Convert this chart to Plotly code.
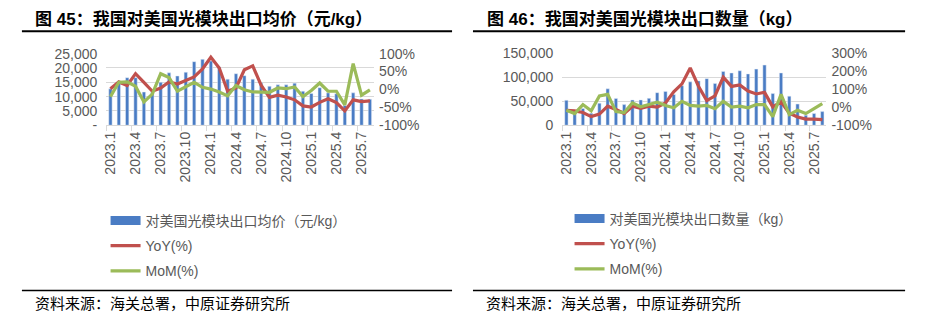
import plotly.graph_objects as go

# ---------------- data ----------------
months = ["2023.1", "2023.2", "2023.3", "2023.4", "2023.5", "2023.6", "2023.7", "2023.8",
          "2023.9", "2023.10", "2023.11", "2023.12",
          "2024.1", "2024.2", "2024.3", "2024.4", "2024.5", "2024.6", "2024.7", "2024.8",
          "2024.9", "2024.10", "2024.11", "2024.12",
          "2025.1", "2025.2", "2025.3", "2025.4", "2025.5", "2025.6", "2025.7", "2025.8"]

price = [12700, 15200, 16600, 16600, 11600, 11400, 15000, 18300, 17200, 18500, 22200, 23000,
         22400, 20300, 16100, 18000, 17300, 16100, 14800, 13600, 14100, 14100, 14700, 11900,
         11100, 13100, 11300, 11000, 6900, 11300, 9200, 9100]
price_yoy = [2, 21, 11, 44, 20, -5, 4, 21, 15, 24, 35, 57,
             90, 60, -5, 4, 55, 66, 12, -22, -16, -21, -29, -46,
             -49, -36, -26, -37, -60, -29, -34, -32]
price_mom = [-20, 20, 21, 9, -35, -13, 44, 33, -5, 8, 20, 6,
             1, -7, -18, 11, -1, -7, -8, -8, 4, 2, 7, -20,
             -3, 18, -5, -5, -43, 72, -16, -1]

qty = [52000, 31000, 35000, 25000, 46000, 76000, 56000, 43000, 52800, 52800, 56100, 68000,
       70600, 64100, 82600, 90500, 92500, 97200, 87300, 112300, 109100, 113700, 107100, 117100,
       125600, 66100, 109100, 60700, 44200, 21000, 24400, 28400]
qty_yoy = [-17, -20, -29, -52, -38, 6, -12, -35, 6, -6, 6, 1,
           24, 86, 130, 219, 117, 37, 64, 168, 116, 124, 90, 74,
           83, 2, 30, -33, -54, -66, -66, -69]
qty_mom = [-17, -35, 15, -20, 63, 72, -24, -29, 24, 3, 15, 28,
           10, -3, 33, 10, 6, 10, -8, 33, 1, 6, -3, 15,
           15, -52, 72, -41, -17, -35, -8, 20]

left_ticks1 = [0, 5000, 10000, 15000, 20000, 25000]
left_text1 = ["-", "5,000", "10,000", "15,000", "20,000", "25,000"]
right_ticks1 = [-100, -50, 0, 50, 100]
right_text1 = ["-100%", "-50%", "0%", "50%", "100%"]
left_ticks2 = [0, 50000, 100000, 150000]
left_text2 = ["0", "50,000", "100,000", "150,000"]
right_ticks2 = [-100, 0, 100, 200, 300]
right_text2 = ["-100%", "0%", "100%", "200%", "300%"]

# ---------------- style ----------------
W, H = 926, 325
BLUE = "#4A7CC4"
RED = "#C0504D"
GREEN = "#9BBB59"
GRID = "#D9D9D9"
TXT = "#595959"
FONT = "Liberation Sans, Arial, Noto Sans CJK SC, sans-serif"


def px(x):
    return x / W


def py(y):
    return 1 - y / H


fig = go.Figure()

# chart 1
fig.add_trace(go.Bar(x=months, y=price, marker_color=BLUE, xaxis="x", yaxis="y",
                     showlegend=False, name="对美国光模块出口均价（元/kg）"))
fig.add_trace(go.Scatter(x=[None], y=[None], mode="lines", line=dict(color=BLUE, width=9),
                         name="对美国光模块出口均价（元/kg）", legend="legend", legendgroup="a1"))
fig.add_trace(go.Scatter(x=months, y=price_yoy, mode="lines", line=dict(color=RED, width=3.2),
                         xaxis="x", yaxis="y2", name="YoY(%)", legend="legend", legendgroup="b1"))
fig.add_trace(go.Scatter(x=months, y=price_mom, mode="lines", line=dict(color=GREEN, width=3.2),
                         xaxis="x", yaxis="y2", name="MoM(%)", legend="legend", legendgroup="c1"))

# chart 2
fig.add_trace(go.Bar(x=months, y=qty, marker_color=BLUE, xaxis="x2", yaxis="y3",
                     showlegend=False, name="对美国光模块出口数量（kg）"))
fig.add_trace(go.Scatter(x=[None], y=[None], mode="lines", line=dict(color=BLUE, width=9),
                         xaxis="x2", yaxis="y3",
                         name="对美国光模块出口数量（kg）", legend="legend2", legendgroup="a2"))
fig.add_trace(go.Scatter(x=months, y=qty_yoy, mode="lines", line=dict(color=RED, width=3.2),
                         xaxis="x2", yaxis="y4", name="YoY(%)", legend="legend2", legendgroup="b2"))
fig.add_trace(go.Scatter(x=months, y=qty_mom, mode="lines", line=dict(color=GREEN, width=3.2),
                         xaxis="x2", yaxis="y4", name="MoM(%)", legend="legend2", legendgroup="c2"))

xcommon = dict(type="category", tickson="boundaries", dtick=3, tickangle=-90,
               ticks="outside", ticklen=5, tickcolor=GRID, showline=True, linecolor=GRID,
               showgrid=False, tickfont=dict(size=14, color=TXT, family=FONT), fixedrange=True)
ycommon = dict(showgrid=True, gridcolor=GRID, zeroline=False, ticks="",
               tickfont=dict(size=14, color=TXT, family=FONT), ticklabelstandoff=8)
rcommon = dict(showgrid=False, zeroline=False, ticks="",
               tickfont=dict(size=14, color=TXT, family=FONT), ticklabelstandoff=4)

legcommon = dict(orientation="v", bgcolor="rgba(0,0,0,0)", borderwidth=0,
                 font=dict(size=14, color=TXT, family=FONT), tracegroupgap=4,
                 xanchor="left", yanchor="top", itemclick=False)

fig.update_layout(
    width=W, height=H, margin=dict(l=0, r=0, t=0, b=0),
    paper_bgcolor="white", plot_bgcolor="white",
    bargap=0.6, showlegend=True,
    font=dict(family=FONT, color=TXT),
    xaxis=dict(domain=[px(102.7), px(371.7)], anchor="y", **xcommon),
    yaxis=dict(domain=[py(123.3), py(48)], range=[0, 25000], tickvals=left_ticks1,
               ticktext=left_text1, anchor="x", **ycommon),
    yaxis2=dict(overlaying="y", side="right", anchor="x", range=[-100, 100],
                tickvals=right_ticks1, ticktext=right_text1, **rcommon),
    xaxis2=dict(domain=[px(560.7), px(826)], anchor="y3", **xcommon),
    yaxis3=dict(domain=[py(123.3), py(47.7)], range=[0, 150000], tickvals=left_ticks2,
                ticktext=left_text2, anchor="x2", **ycommon),
    yaxis4=dict(overlaying="y3", side="right", anchor="x2", range=[-100, 300],
                tickvals=right_ticks2, ticktext=right_text2, **rcommon),
    legend=dict(x=px(102), y=py(207), **legcommon),
    legend2=dict(x=px(568), y=py(205), **legcommon),
)

TFONT = dict(family="Liberation Sans, Arial, Noto Sans CJK SC", size=17, color="black")
SFONT = dict(family="Noto Sans CJK SC, Liberation Sans", size=15, color="black")
fig.add_annotation(x=px(29), y=py(12), xref="paper", yref="paper", xanchor="left", yanchor="middle",
                   text="<b>图 45：我国对美国光模块出口均价（元/kg）</b>", showarrow=False, font=TFONT)
fig.add_annotation(x=px(483), y=py(12), xref="paper", yref="paper", xanchor="left", yanchor="middle",
                   text="<b>图 46：我国对美国光模块出口数量（kg）</b>", showarrow=False, font=TFONT)
fig.add_annotation(x=px(29), y=py(310), xref="paper", yref="paper", xanchor="left", yanchor="middle",
                   text="资料来源：海关总署，中原证券研究所", showarrow=False, font=SFONT)
fig.add_annotation(x=px(482), y=py(310), xref="paper", yref="paper", xanchor="left", yanchor="middle",
                   text="资料来源：海关总署，中原证券研究所", showarrow=False, font=SFONT)

for x0, x1 in [(18, 450), (471, 905)]:
    fig.add_shape(type="line", xref="paper", yref="paper", x0=px(x0), x1=px(x1),
                  y0=py(24.5), y1=py(24.5), line=dict(color="black", width=2))
    fig.add_shape(type="line", xref="paper", yref="paper", x0=px(x0), x1=px(x1),
                  y0=py(297), y1=py(297), line=dict(color="black", width=1.5))

fig.write_html("out.html")
